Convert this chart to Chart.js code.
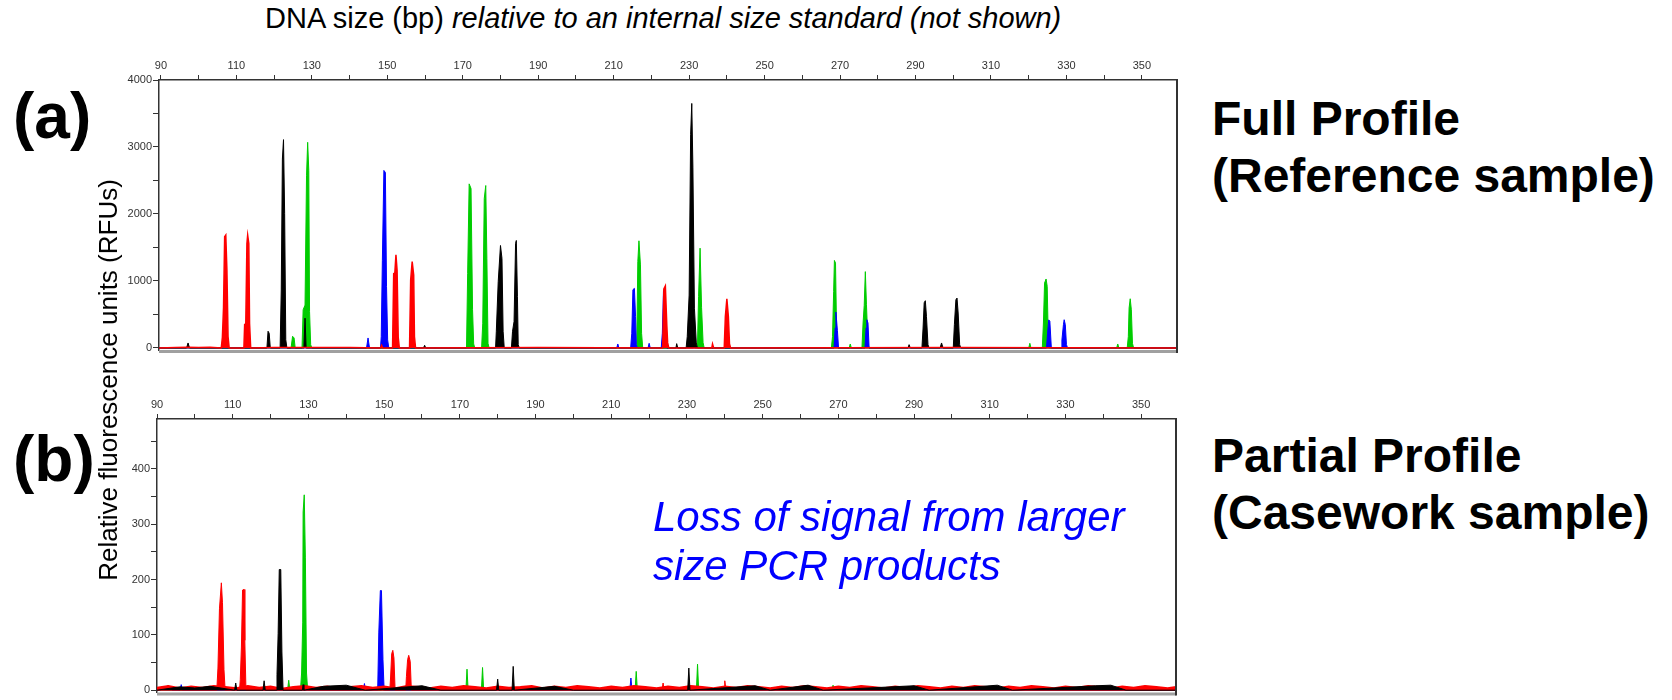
<!DOCTYPE html>
<html>
<head>
<meta charset="utf-8">
<script src="https://cdn.jsdelivr.net/npm/chart.js@4.4.0/dist/chart.umd.min.js"></script>
<style>
  body { margin: 0; width: 1672px; height: 700px; background: #fff; position: relative; overflow: hidden;
         font-family: "Liberation Sans", Arial, sans-serif; color: #000; }
  canvas { position: absolute; left: 0; }
  .txt { position: absolute; white-space: nowrap; }
</style>
</head>
<body>
<canvas id="chartA" width="1200" height="320" style="top:40px"></canvas>
<canvas id="chartB" width="1200" height="320" style="top:380px"></canvas>

<div class="txt" style="left:265px; top:4px; font-size:29px; line-height:29px;">DNA size (bp) <i>relative to an internal size standard (not shown)</i></div>
<div class="txt" style="left:13px; top:84px; font-size:64px; line-height:64px; font-weight:bold;">(a)</div>
<div class="txt" style="left:13px; top:427px; font-size:64px; line-height:64px; font-weight:bold;">(b)</div>
<div class="txt" style="left:-142px; top:367px; width:500px; text-align:center; font-size:26px; line-height:26px; transform:rotate(-90deg);">Relative fluorescence units (RFUs)</div>
<div class="txt" style="left:1212px; top:90px; font-size:48px; line-height:57px; font-weight:bold;">Full Profile<br>(Reference sample)</div>
<div class="txt" style="left:1212px; top:427px; font-size:48px; line-height:57px; font-weight:bold;">Partial Profile<br>(Casework sample)</div>
<div class="txt" style="left:653px; top:492px; font-size:42px; line-height:49px; font-style:italic; color:#0000ff;">Loss of signal from larger<br>size PCR products</div>

<script>
// size axis (bp), shared by both panels
const xTicks = [90, 100, 110, 120, 130, 140, 150, 160, 170, 180, 190, 200, 210, 220, 230, 240, 250, 260, 270, 280, 290, 300, 310, 320, 330, 340, 350];
const xLabels = [90, 110, 130, 150, 170, 190, 210, 230, 250, 270, 290, 310, 330, 350];

// RFU axes
const yTicksA = [0, 500, 1000, 1500, 2000, 2500, 3000, 3500, 4000];
const yLabelsA = [0, 1000, 2000, 3000, 4000];
const yTicksB = [0, 50, 100, 150, 200, 250, 300, 350, 400, 450];
const yLabelsB = [0, 100, 200, 300, 400];

// (a) full profile, [bp, RFU]
const redA = [[89.5,0],[94,8],[97,12],[100,6],[103,10],[106.0,0],[106.3,160],[106.6,600],[106.9,1660],[107.2,1685],[107.5,1160],[107.8,170],[108.1,0],
  [112.0,0],[112.2,350],[112.5,360],[112.8,1560],[113.0,1685],[113.3,1560],[113.5,370],[113.8,0],[120,8],[140,6],[148.2,0],[148.5,40],[148.8,0],
  [151.4,0],[151.7,1110],[152.0,1120],[152.3,1390],[152.6,1160],[152.9,160],[153.2,0],[155.9,0],[156.2,1015],[156.6,1290],[157.0,1090],[157.2,170],[157.5,0],
  [190,8],[223.0,0],[223.3,880],[223.7,926],[224.1,322],[224.3,80],[224.6,0],[236.0,0],[236.2,60],[236.5,0],
  [239.3,0],[239.6,470],[240.0,735],[240.4,470],[240.7,60],[241.0,0],[300,8],[359.3,0]];
const blueA = [[89.5,0],[144.5,0],[144.9,150],[145.3,0],[148.2,0],[148.4,170],[148.7,1310],[149.1,2650],[149.5,2620],[149.8,920],[150.1,120],[150.4,0],
  [210.8,0],[211.1,60],[211.4,0],[214.5,0],[214.8,220],[215.1,870],[215.5,890],[215.8,470],[216.0,50],[216.3,0],[219.1,0],[219.4,70],[219.7,0],
  [222.6,0],[222.9,220],[223.2,850],[223.5,890],[223.8,520],[224.1,0],[268.4,0],[268.7,300],[268.9,537],[269.3,260],[269.6,0],
  [276.6,0],[276.9,300],[277.1,422],[277.4,373],[277.7,0],[324.7,0],[325.0,220],[325.3,420],[325.6,400],[326.0,0],
  [328.6,0],[328.8,120],[329.2,348],[329.4,422],[329.7,348],[330.0,50],[330.3,0],[359.3,0]];
const greenA = [[89.5,0],[124.5,0],[124.9,175],[125.3,150],[125.6,0],[127.4,0],[127.7,570],[128.2,640],[128.6,2570],[128.9,3070],[129.2,2650],[129.4,545],[129.7,50],[130.0,0],
  [171.0,0],[171.3,1110],[171.7,2450],[172.2,2380],[172.6,570],[172.9,60],[173.2,0],[175.0,0],[175.3,370],[175.7,2230],[176.1,2425],[176.4,1340],[176.7,70],[177.0,0],
  [216.1,0],[216.4,1290],[216.7,1600],[217.1,1240],[217.4,220],[217.7,0],[231.1,0],[231.3,60],[231.6,0],
  [232.2,0],[232.5,770],[232.9,1490],[233.3,600],[233.7,80],[234.0,0],[267.7,0],[268.0,170],[268.3,845],[268.5,1307],[268.8,1267],[269.1,170],[269.4,0],
  [272.4,0],[272.7,60],[273.0,0],[275.8,0],[276.1,373],[276.4,636],[276.7,1140],[277.0,645],[277.4,75],[277.7,0],
  [320.0,0],[320.3,70],[320.6,0],[323.6,0],[323.9,373],[324.2,969],[324.6,1030],[324.9,920],[325.2,100],[325.5,0],
  [343.3,0],[343.6,60],[343.9,0],[346.1,0],[346.4,170],[346.6,596],[346.9,735],[347.2,570],[347.5,70],[347.8,0],[359.3,0]];
const blackA = [[89.5,0],[96.8,0],[97.2,75],[97.6,0],[118.1,0],[118.4,250],[118.7,220],[119.0,0],
  [121.6,0],[121.9,866],[122.2,2820],[122.5,3110],[122.8,2005],[123.1,124],[123.4,0],[127.9,0],[128.2,445],[128.5,0],
  [159.6,0],[159.9,40],[160.2,0],
  [178.7,0],[178.9,250],[179.4,990],[180.0,1530],[180.4,1336],[180.7,250],[181.0,0],
  [182.9,0],[183.2,250],[183.6,396],[184.0,1560],[184.2,1605],[184.5,767],[184.7,50],[185.0,0],[226.5,0],[226.7,65],[227.0,0],
  [229.2,0],[229.5,170],[230.0,790],[230.4,3190],[230.7,3650],[231.0,2700],[231.4,594],[231.9,75],[232.2,0],
  [288.0,0],[288.3,50],[288.6,0],[291.7,0],[292.0,298],[292.3,676],[292.6,706],[292.9,472],[293.3,50],[293.6,0],
  [296.5,0],[296.9,75],[297.3,0],[300.0,0],[300.3,348],[300.7,720],[301.0,745],[301.3,522],[301.7,50],[302.0,0],[359.3,0]];

// (b) partial profile, [bp, RFU]
const redNoiseB = [[90,5],[93,8],[96,4],[99,7],[102,5],[105,8],[108,6],[111,4],[114,8],[117,5],[120,7],[123,3],[126,6],[129,8],[132,5],[135,7],
  [138,4],[141,6],[144,8],[147,5],[150,7],[153,4],[156,8],[159,6],[162,4],[165,7],[168,5],[171,8],[174,6],[177,4],[180,7],[183,5],
  [186,6],[189,8],[192,4],[195,7],[198,5],[201,8],[204,6],[207,4],[210,7],[213,5],[216,8],[219,6],[222,4],[225,7],[228,5],[231,8],
  [234,6],[237,4],[240,7],[243,5],[246,8],[249,6],[252,4],[255,7],[258,5],[261,8],[264,6],[267,4],[270,7],[273,5],[276,8],[279,6],
  [282,4],[285,7],[288,5],[291,8],[294,6],[297,4],[300,7],[303,5],[306,8],[309,6],[312,4],[315,7],[318,5],[321,8],[324,6],[327,4],
  [330,7],[333,5],[336,8],[339,6],[342,4],[345,7],[348,5],[351,8],[354,6],[357,4],[359.2,6]];
const redB = [[90,0],[105.8,0],[106.1,40],[106.5,147],[107.0,194],[107.3,158],[107.7,37],[108.0,0],[111.8,0],[112.0,19],[112.3,78],[112.6,181],[113.0,182],[113.2,90],[113.5,0],
  [151.5,0],[151.7,22],[152.0,66],[152.3,72],[152.6,58],[152.9,0],[155.7,0],[155.9,25],[156.2,55],[156.5,63],[156.9,52],[157.2,0],
  [223.4,0],[223.7,13],[224.0,0],[239.8,0],[240.0,17],[240.3,0],[359.2,0]];
const blueB = [[90,0],[93,8],[94,0],[96.1,0],[96.4,10],[96.7,0],[144.5,0],[144.8,12],[145.1,0],[148.3,0],[148.6,105],[149.0,180],[149.3,180],[149.7,55],[150.0,0],
  [214.9,0],[215.2,22],[215.5,0],[359.2,0]];
const greenB = [[90,0],[93,6],[96,0],[124.5,0],[124.8,18],[125.1,0],[127.9,0],[128.2,31],[128.5,123],[128.6,322],[128.9,353],[129.2,239],[129.5,31],[129.8,0],
  [149.3,0],[149.5,22],[149.8,0],[171.6,0],[171.9,38],[172.2,0],[175.7,0],[176.0,41],[176.3,0],[216.3,0],[216.6,34],[216.9,0],
  [232.5,0],[232.8,47],[233.1,0],[268.3,0],[268.6,9],[268.9,0],[359.2,0]];
const blackB = [[90,0],[96,6],[100,4],[104,7],[110.5,0],[110.8,13],[111.1,0],[118.0,0],[118.3,17],[118.6,0],
  [121.5,0],[121.7,28],[122.0,102],[122.3,218],[122.7,218],[123.0,69],[123.3,0],[128.4,0],[128.6,10],[128.8,0],[134,7],[140,9],[145,0],
  [160,8],[165,0],[179.7,0],[180.0,20],[180.3,0],[183.8,0],[184.1,43],[184.4,0],[195,7],[200,0],[230.2,0],[230.5,40],[230.8,0],
  [248,8],[252,0],[262,9],[266,0],[290,8],[294,0],[312,9],[316,0],[338,8],[342,9],[346,0],[359.2,0]];

const RED = "#ff0000", BLUE = "#0000ff", GREEN = "#00cc00", BLACK = "#000000";
const tickFont = { family: "Liberation Sans", size: 11 };

// right and bottom edges of the plot box
const frame = {
    id: "frame",
    afterDraw(chart) {
        const { ctx, chartArea: a } = chart;
        ctx.save();
        ctx.strokeStyle = "#a0a0a0";
        ctx.lineWidth = 3;
        ctx.beginPath();
        ctx.moveTo(a.left, a.bottom + 1.5);
        ctx.lineTo(a.right, a.bottom + 1.5);
        ctx.stroke();
        ctx.strokeStyle = "#333";
        ctx.lineWidth = 2;
        ctx.beginPath();
        ctx.moveTo(a.right, a.top);
        ctx.lineTo(a.right, a.bottom + 3);
        ctx.stroke();
        ctx.restore();
    }
};

const trace = (data, color, order, width) => ({
    data: data.map(([x, y]) => ({ x, y })),
    borderColor: color,
    backgroundColor: color,
    borderWidth: width || 1,
    fill: "origin",
    pointRadius: 0,
    tension: 0,
    order: order
});

const makeChart = (id, datasets, xMin, xMax, yMin, yMax, yTicks, yLabels, padding) => {
    return new Chart(document.getElementById(id), {
        type: "line",
        data: { datasets: datasets },
        plugins: [frame],
        options: {
            responsive: false,
            animation: false,
            devicePixelRatio: 1,
            layout: { padding: padding },
            plugins: { legend: { display: false }, tooltip: { enabled: false } },
            scales: {
                x: {
                    type: "linear",
                    position: "top",
                    min: xMin,
                    max: xMax,
                    afterBuildTicks: s => { s.ticks = xTicks.map(v => ({ value: v })); },
                    afterFit: s => { s.height = 20; },
                    ticks: {
                        autoSkip: false,
                        maxRotation: 0,
                        padding: 2,
                        color: "#333",
                        font: tickFont,
                        callback: v => xLabels.includes(v) ? String(v) : ""
                    },
                    grid: { drawOnChartArea: false, drawTicks: true, tickLength: 5, color: "#333", lineWidth: 1 },
                    border: { color: "#333", width: 1.5 }
                },
                y: {
                    type: "linear",
                    min: yMin,
                    max: yMax,
                    afterBuildTicks: s => { s.ticks = yTicks.map(v => ({ value: v })); },
                    afterFit: s => { s.width = 60; },
                    ticks: {
                        autoSkip: false,
                        padding: 1,
                        color: "#333",
                        font: tickFont,
                        callback: v => yLabels.includes(v) ? String(v) : ""
                    },
                    grid: { drawOnChartArea: false, drawTicks: true, tickLength: 6, color: "#333", lineWidth: 1 },
                    border: { color: "#333", width: 1.5 }
                }
            }
        }
    });
};

makeChart("chartA", [
    trace(redA, RED, 0, 1.5),
    trace(blackA, BLACK, 1),
    trace(blueA, BLUE, 2),
    trace(greenA, GREEN, 3)
], 89.5, 359.3, -30, 4000, yTicksA, yLabelsA, { left: 99, top: 20, right: 23, bottom: 10 });

makeChart("chartB", [
    trace(redNoiseB, RED, 1, 1.5),
    trace(redB, RED, 2),
    trace(blackB, BLACK, 0),
    trace(blueB, BLUE, 3),
    trace(greenB, GREEN, 4)
], 90, 359.2, -4, 490, yTicksB, yLabelsB, { left: 97, top: 19, right: 24, bottom: 4 });
</script>
</body>
</html>
